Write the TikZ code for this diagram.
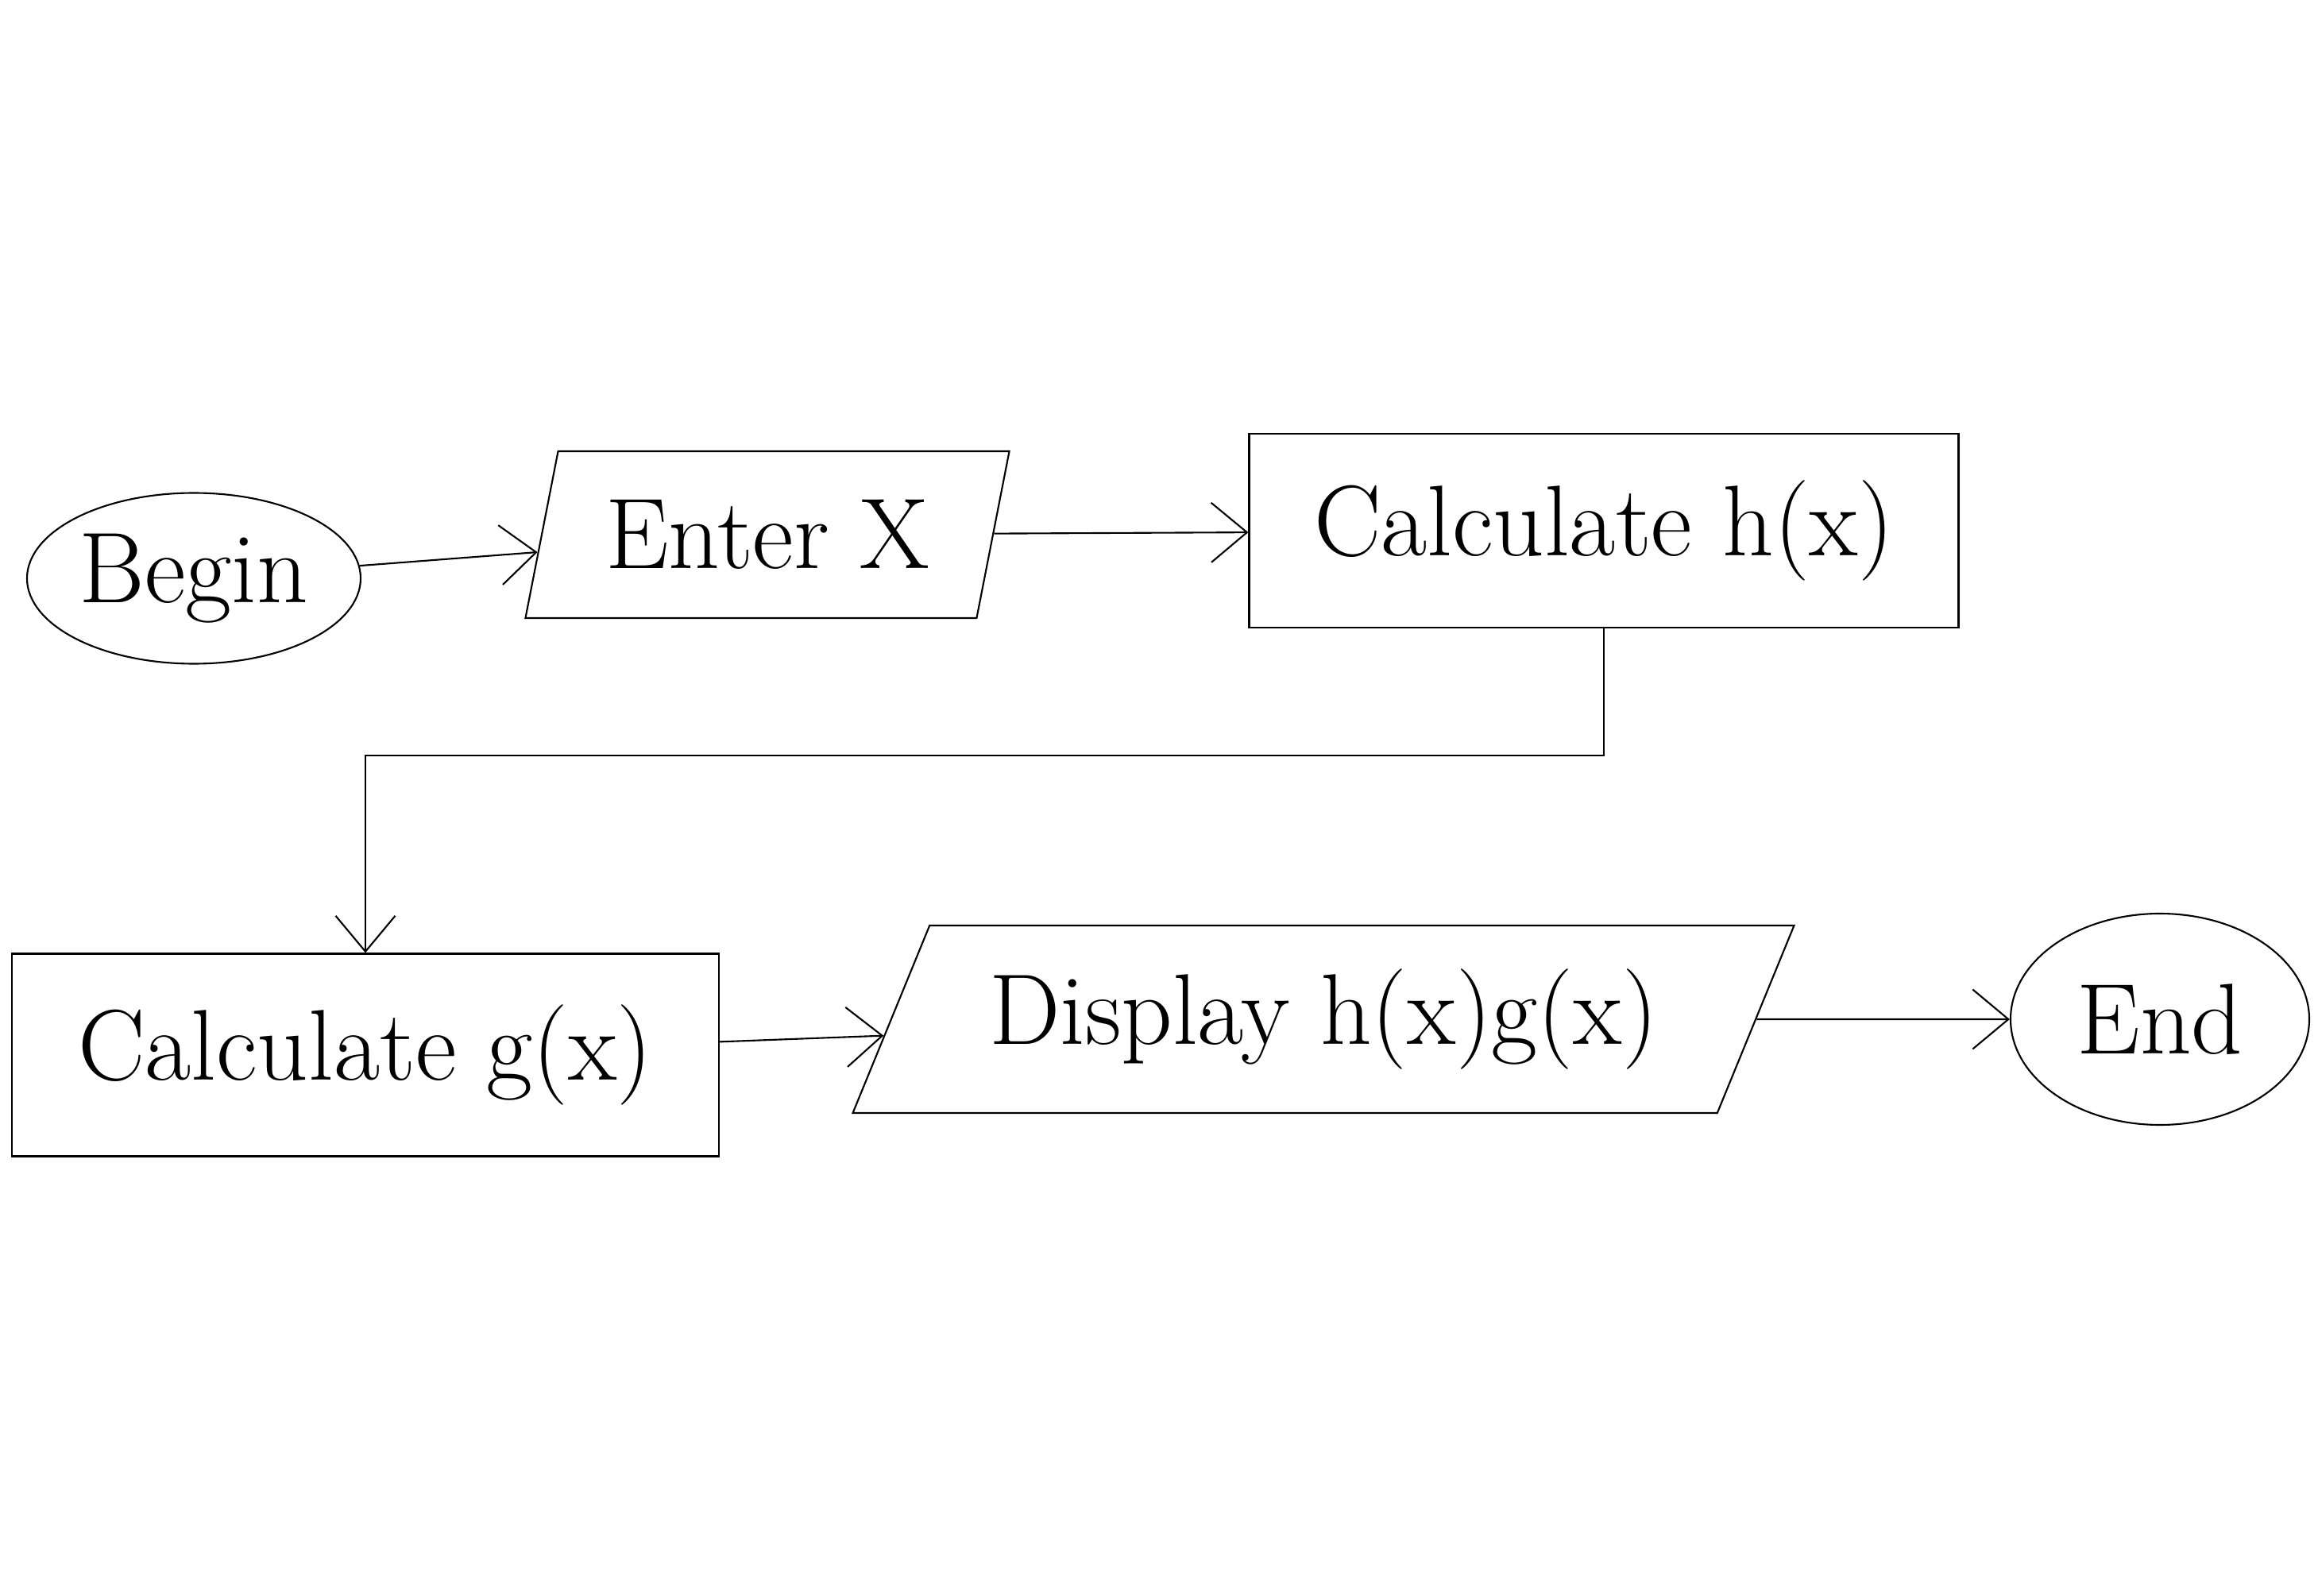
\documentclass[tikz,border=0pt]{standalone}
\usepackage{amsmath, amssymb}
\usepackage{tikz}
\usetikzlibrary{shapes.geometric, arrows.meta}

\begin{document}
\begin{tikzpicture}[line width=0.6pt,
    terminal/.style={ellipse, draw, inner sep=0pt},
    io/.style={trapezium, trapezium stretches=true, draw, inner sep=0pt},
    process/.style={rectangle, draw, inner sep=0pt},
    arr/.style={-{Straight Barb[length=4.5mm, width=7.5mm]}},
    every node/.style={font=\fontsize{36}{43}\selectfont}]
    \newcommand{\rowa}{13.4}
    \newcommand{\rowb}{7.2}

    \useasboundingbox (0,0) rectangle (29.18,20.08);

    \node[terminal, minimum width=4.2cm, minimum height=2.15cm] (begin) at (2.44,\rowa-0.6) {Begin};
    \node[io, trapezium left angle=70, trapezium right angle=110, minimum width=6.1cm, minimum height=2.1cm] (enter) at (9.66,\rowa-0.05) {Enter X};
    \node[process, minimum width=8.93cm, minimum height=2.44cm] (calch) at (20.19,\rowa) {Calculate h(x)};

    \node[process, minimum width=8.9cm, minimum height=2.55cm] (calcg) at (4.6,\rowb-0.4) {Calculate g(x)};
    \node[io, trapezium left angle=57, trapezium right angle=123, minimum width=11.9cm, minimum height=2.36cm] (display) at (16.66,\rowb+0.05) {Display h(x)g(x)};
    \node[terminal, minimum width=3.76cm, minimum height=2.66cm] (end) at (27.19,\rowb+0.05) {End};

    \draw[arr] (begin) -- (enter);
    \draw[arr] (enter) -- (calch);
    \draw[arr] (calch.south) -- ++(0,-1.6) -| (calcg.north);
    \draw[arr] (calcg) -- (display);
    \draw[arr] (display) -- (end);

\end{tikzpicture}
\end{document}
